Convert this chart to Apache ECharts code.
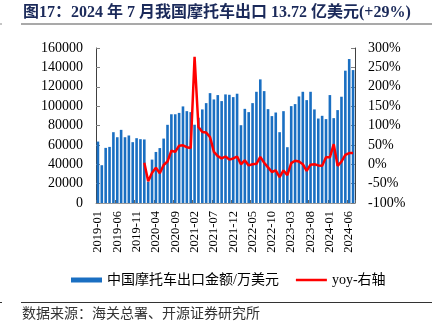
<!DOCTYPE html>
<html>
<head>
<meta charset="utf-8">
<script src="https://cdn.jsdelivr.net/npm/echarts@6/dist/echarts.min.js"></script>
<style>
html,body{margin:0;padding:0;background:#fff;}
#chart{width:439px;height:334px;}
</style>
</head>
<body>
<div id="chart"></div>
<script>
var categories = [
'2019-01','2019-02','2019-03','2019-04','2019-05','2019-06','2019-07','2019-08','2019-09','2019-10','2019-11','2019-12',
'2020-01','2020-02','2020-03','2020-04','2020-05','2020-06','2020-07','2020-08','2020-09','2020-10','2020-11','2020-12',
'2021-01','2021-02','2021-03','2021-04','2021-05','2021-06','2021-07','2021-08','2021-09','2021-10','2021-11','2021-12',
'2022-01','2022-02','2022-03','2022-04','2022-05','2022-06','2022-07','2022-08','2022-09','2022-10','2022-11','2022-12',
'2023-01','2023-02','2023-03','2023-04','2023-05','2023-06','2023-07','2023-08','2023-09','2023-10','2023-11','2023-12',
'2024-01','2024-02','2024-03','2024-04','2024-05','2024-06','2024-07'
];
// 中国摩托车出口金额/万美元
var exportValues = [
63400, 39000, 56900, 57900, 73100, 67900, 75500, 67900, 69700, 62800, 66900, 65900,
65600, 22000, 44800, 52700, 56700, 66500, 80700, 91600, 91600, 93000, 99700, 94800,
93800, 80800, 88000, 96600, 103100, 113400, 106900, 111400, 105200, 112100, 111700, 109300,
112800, 80300, 97200, 93800, 103100, 114800, 127600, 115500, 96900, 89700, 93400, 73100,
94800, 57600, 100000, 102100, 110000, 114800, 106200, 114800, 96600, 87200, 90000, 86600,
111400, 87600, 95900, 109700, 136600, 148600, 137200
];
// yoy (%) - right axis
var yoyValues = [
null, null, null, null, null, null, null, null, null, null, null, null,
4, -44, -22, -9, -23, -2, 7, 35, 32, 48, 49, 44,
42, 277, 96, 83, 82, 70, 32, 21, 15, 20, 12, 15,
20, 0, 10, -3, 0, 1, 19, 4, -8, -20, -16, -33,
-16, -28, 3, 9, 7, 0, -17, -1, 0, -3, -4, 18,
18, 52, -4, 7, 24, 29, 29
];
var leftTicks = {min: 0, max: 160000, interval: 20000};
var rightTicks = {min: -100, max: 300, interval: 50};
var titleText = '图17：2024 年 7 月我国摩托车出口 13.72 亿美元(+29%)';
var sourceText = '数据来源：海关总署、开源证券研究所';
var barName = '中国摩托车出口金额/万美元';
var lineName = 'yoy-右轴';

var serif = '"Liberation Serif","Times New Roman","Noto Sans CJK SC",serif';
var chart = echarts.init(document.getElementById('chart'), null, {renderer: 'canvas'});
chart.setOption({
  animation: false,
  backgroundColor: '#fff',
  graphic: [
    {type: 'text', left: 23, top: 5, style: {text: titleText, font: 'bold 16px ' + serif, fill: '#1b2a5a'}},
    {type: 'line', shape: {x1: 21, y1: 24, x2: 432, y2: 24}, style: {stroke: '#8c8c8c', lineWidth: 1.5}},
    {type: 'line', shape: {x1: 0, y1: 24, x2: 2, y2: 24}, style: {stroke: '#8c8c8c', lineWidth: 1}},
    {type: 'line', shape: {x1: 21, y1: 302.5, x2: 432, y2: 302.5}, style: {stroke: '#333', lineWidth: 1}},
    {type: 'line', shape: {x1: 0, y1: 302.5, x2: 2, y2: 302.5}, style: {stroke: '#333', lineWidth: 1}},
    {type: 'text', left: 22, top: 306, style: {text: sourceText, font: '14px "Noto Sans CJK SC",sans-serif', fill: '#333'}}
  ],
  legend: {
    left: 66, top: 268,
    itemGap: 17,
    itemWidth: 31, itemHeight: 5,
    textStyle: {fontFamily: serif, fontSize: 14, color: '#000'},
    data: [
      {name: barName, icon: 'rect'},
      {name: lineName, icon: 'path://M0,0L62,0L62,5L0,5Z'}
    ]
  },
  grid: {left: 96, right: 84, top: 48, bottom: 131},
  xAxis: {
    type: 'category',
    data: categories,
    boundaryGap: true,
    axisLine: {lineStyle: {color: '#9a9a9a', width: 1}},
    axisTick: {show: true, inside: true, length: 3, interval: 4, lineStyle: {color: '#666'}},
    axisLabel: {interval: 4, rotate: 90, margin: 8, fontFamily: serif, fontSize: 12.5, color: '#000'}
  },
  yAxis: [
    {
      type: 'value', min: leftTicks.min, max: leftTicks.max, interval: leftTicks.interval,
      splitLine: {show: false},
      axisLine: {show: true, lineStyle: {color: '#404040'}},
      axisTick: {show: true, inside: true, length: 4, lineStyle: {color: '#808080'}},
      axisLabel: {margin: 13, fontFamily: serif, fontSize: 14, color: '#000',
        formatter: function (v) { return String(v); }}
    },
    {
      type: 'value', min: rightTicks.min, max: rightTicks.max, interval: rightTicks.interval,
      splitLine: {show: false},
      axisLine: {show: true, lineStyle: {color: '#404040'}},
      axisTick: {show: true, inside: true, length: 4, lineStyle: {color: '#808080'}},
      axisLabel: {margin: 13, fontFamily: serif, fontSize: 14, color: '#000', formatter: '{value}%'}
    }
  ],
  series: [
    {
      name: barName, type: 'bar', data: exportValues, barWidth: 2.6,
      itemStyle: {color: '#1a6fc2'}, z: 2
    },
    {
      name: lineName, type: 'line', yAxisIndex: 1, data: yoyValues,
      symbol: 'none', showSymbol: false, connectNulls: false,
      lineStyle: {color: '#ff0000', width: 2.5}, itemStyle: {color: '#ff0000'}, z: 3
    }
  ]
});
</script>
</body>
</html>
